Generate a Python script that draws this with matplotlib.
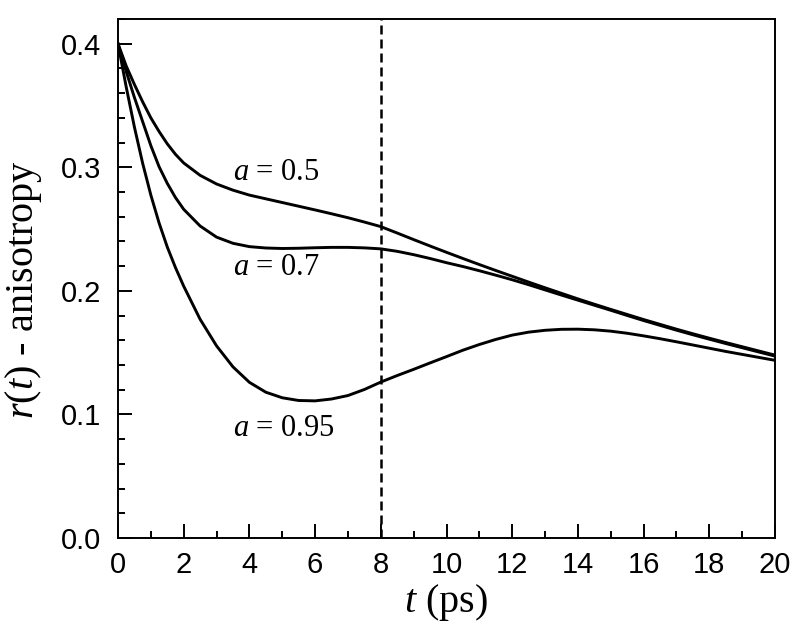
import matplotlib
matplotlib.use("Agg")
import matplotlib.pyplot as plt
from matplotlib.ticker import MultipleLocator

plt.rcParams['mathtext.fontset'] = 'custom'
plt.rcParams['mathtext.rm'] = 'Liberation Serif'
plt.rcParams['mathtext.it'] = 'Liberation Serif:italic'

t = [0, 0.25, 0.5, 0.75, 1, 1.25, 1.5, 1.75, 2, 2.5, 3, 3.5, 4, 4.5, 5, 5.5, 6, 6.5, 7, 7.5,
     8, 8.5, 9, 9.5, 10, 10.5, 11, 11.5, 12, 12.5, 13, 13.5, 14, 14.5, 15, 15.5, 16, 16.5,
     17, 17.5, 18, 18.5, 19, 19.5, 20]

r_a050 = [0.400, 0.382, 0.367, 0.353, 0.340, 0.329, 0.319, 0.3105, 0.3035, 0.2935, 0.2865,
          0.2815, 0.2775, 0.2745, 0.2715, 0.2685, 0.2655, 0.2624, 0.2592, 0.2557, 0.252,
          0.2468, 0.2415, 0.2363, 0.2312, 0.2262, 0.2213, 0.2165, 0.2118, 0.2071, 0.2025,
          0.198, 0.1935, 0.1892, 0.185, 0.1809, 0.1768, 0.1729, 0.169, 0.1653, 0.1617,
          0.1582, 0.1548, 0.1514, 0.148]

r_a070 = [0.400, 0.3775, 0.3565, 0.337, 0.3175, 0.3005, 0.287, 0.2755, 0.266, 0.2525, 0.2435,
          0.2385, 0.2358, 0.2347, 0.2343, 0.2345, 0.2349, 0.2352, 0.2352, 0.2348, 0.234,
          0.232, 0.2293, 0.2262, 0.2228, 0.2197, 0.2163, 0.2127, 0.2090, 0.2050, 0.2008,
          0.1966, 0.1925, 0.1884, 0.1843, 0.1801, 0.1760, 0.1721, 0.1682, 0.1645, 0.1609,
          0.1574, 0.1540, 0.1506, 0.1472]

r_a095 = [0.400, 0.365, 0.3325, 0.3033, 0.2775, 0.255, 0.2355, 0.2188, 0.2038, 0.177, 0.1555,
          0.1385, 0.126, 0.118, 0.1135, 0.1113, 0.111, 0.1125, 0.1153, 0.1202, 0.1262, 0.1315,
          0.1365, 0.1417, 0.1468, 0.152, 0.1566, 0.1607, 0.1642, 0.1666, 0.1681, 0.1689,
          0.169, 0.1685, 0.1674, 0.1657, 0.1636, 0.1613, 0.1588, 0.1562, 0.1536, 0.151,
          0.1486, 0.1462, 0.1438]

labels = [r'$a$ = 0.5', r'$a$ = 0.7', r'$a$ = 0.95']
label_pos = [(3.5, 0.296), (3.5, 0.2186), (3.5, 0.089)]
t_mark = 8

fig = plt.figure(figsize=(8.0, 6.38), dpi=100)
ax = fig.add_axes([0.1475, 0.1567, 0.82125, 0.8135])

for series in (r_a050, r_a070, r_a095):
    ax.plot(t, series, color='black', lw=2.1, solid_joinstyle='round')

ax.axvline(t_mark, color='black', lw=1.8, linestyle=(0, (3.6, 2.0)))

for txt, (x, y) in zip(labels, label_pos):
    ax.text(x, y, txt, fontsize=22, family='Liberation Serif', va='center', ha='left')

ax.set_xlim(0, 20)
ax.set_ylim(0, 0.42)
ax.xaxis.set_major_locator(MultipleLocator(2))
ax.xaxis.set_minor_locator(MultipleLocator(1))
ax.yaxis.set_minor_locator(MultipleLocator(0.02))
ax.set_yticks([0.0, 0.1, 0.2, 0.3, 0.4])
ax.set_yticklabels(['0.0', '0.1', '0.2', '0.3', '0.4'])

ax.tick_params(which='both', direction='in', top=False, right=False, width=1.4,
               labelsize=21, labelfontfamily='Liberation Sans')
ax.tick_params(which='major', length=10)
ax.tick_params(which='minor', length=5)
ax.tick_params(axis='y', which='major', pad=12)
ax.tick_params(axis='x', which='major', pad=9)

for sp in ax.spines.values():
    sp.set_linewidth(1.4)

ax.set_xlabel(r'$t$ (ps)', fontsize=29, family='Liberation Serif')
ax.set_ylabel(r'$r$($t$) - anisotropy', fontsize=29, family='Liberation Serif')
ax.xaxis.set_label_coords(0.5, -0.085)
ax.yaxis.set_label_coords(-0.112, 0.478)

fig.savefig('out.png', dpi=100, facecolor='white')
